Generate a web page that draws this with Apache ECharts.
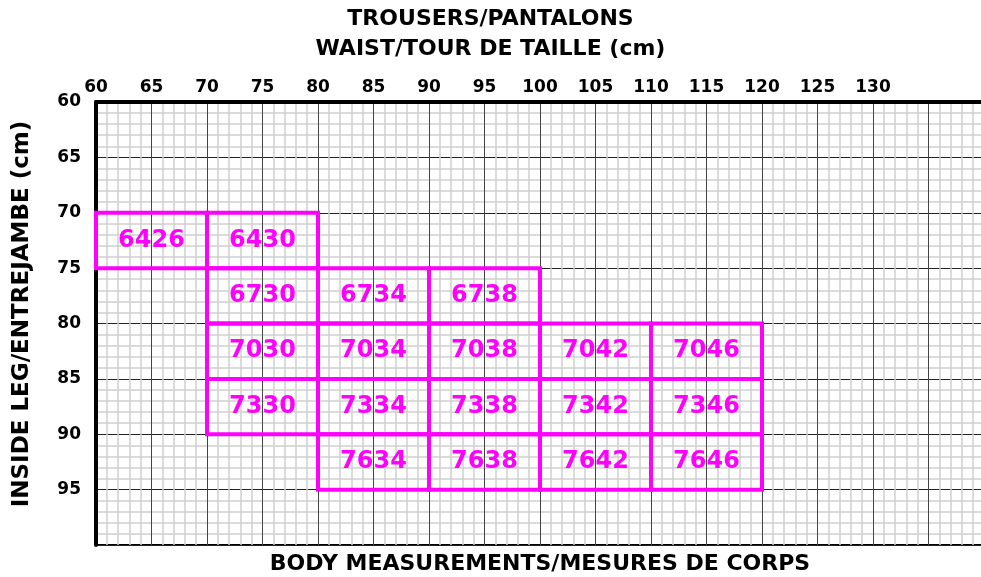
<!DOCTYPE html>
<html>
<head>
<meta charset="utf-8">
<script src="https://cdn.jsdelivr.net/npm/echarts@6/dist/echarts.min.js"></script>
<style>html,body{margin:0;padding:0;background:#fff}#c{width:981px;height:577px}</style>
</head>
<body>
<div id="c"></div>
<script>
// Size boxes: waist range start (cm), inside-leg range start (cm), product code
var waistStart = [60, 70, 70, 80, 90, 70, 80, 90, 100, 110, 70, 80, 90, 100, 110, 80, 90, 100, 110];
var legStart   = [70, 70, 75, 75, 75, 80, 80, 80, 80, 80, 85, 85, 85, 85, 85, 90, 90, 90, 90];
var codes = ['6426','6430','6730','6734','6738','7030','7034','7038','7042','7046',
             '7330','7334','7338','7342','7346','7634','7638','7642','7646'];
var waistStep = 10, legStep = 5;
var xTickLabels = [60,65,70,75,80,85,90,95,100,105,110,115,120,125,130];
var yTickLabels = [60,65,70,75,80,85,90,95];

var FONT = '"DejaVu Sans", "Liberation Sans", sans-serif';
var MAG = '#ff00ff';
var chart = echarts.init(document.getElementById('c'), null, {renderer: 'canvas'});
var data = waistStart.map(function (w, i) { return [w, legStart[i]]; });

chart.setOption({
  backgroundColor: '#fff',
  animation: false,
  title: [
    {text: 'TROUSERS/PANTALONS', left: 'center', top: 3,
     textStyle: {fontFamily: FONT, fontWeight: 'bold', fontSize: 22, color: '#000'}},
    {text: 'WAIST/TOUR DE TAILLE (cm)', left: 'center', top: 33,
     textStyle: {fontFamily: FONT, fontWeight: 'bold', fontSize: 22, color: '#000'}}
  ],
  graphic: [
    {type: 'text', x: 540, y: 564,
     style: {text: 'BODY MEASUREMENTS/MESURES DE CORPS', font: 'bold 22px ' + FONT, fill: '#000',
             align: 'center', verticalAlign: 'middle'}},
    {type: 'text', x: 22, y: 314, rotation: Math.PI / 2,
     style: {text: 'INSIDE LEG/ENTREJAMBE (cm)', font: 'bold 23px ' + FONT, fill: '#000',
             align: 'center', verticalAlign: 'middle'}}
  ],
  grid: {left: 96, top: 102, width: 888, height: 443, show: true, outerBoundsMode: 'none',
         borderColor: '#000', borderWidth: 2, backgroundColor: 'transparent'},
  xAxis: {
    type: 'value', position: 'top', min: 60, max: 140, interval: 5,
    axisLine: {show: true, lineStyle: {color: '#000', width: 4}},
    axisTick: {show: false},
    axisLabel: {margin: 6, color: '#000', fontFamily: FONT, fontWeight: 'bold', fontSize: 17,
      formatter: function (v) { return xTickLabels.indexOf(v) >= 0 ? String(v) : ''; }},
    splitLine: {show: true, lineStyle: {color: '#444', width: 1}},
    minorTick: {show: false, splitNumber: 5},
    minorSplitLine: {show: true, lineStyle: {color: '#cfcfcf', width: 1.5}}
  },
  yAxis: {
    type: 'value', inverse: true, min: 60, max: 100, interval: 5,
    axisLine: {show: true, lineStyle: {color: '#000', width: 4}},
    axisTick: {show: false},
    axisLabel: {margin: 15, color: '#000', fontFamily: FONT, fontWeight: 'bold', fontSize: 17,
      formatter: function (v) { return yTickLabels.indexOf(v) >= 0 ? String(v) : ''; }},
    splitLine: {show: true, lineStyle: {color: '#222', width: 1}},
    minorTick: {show: false, splitNumber: 5},
    minorSplitLine: {show: true, lineStyle: {color: '#cfcfcf', width: 1.5}}
  },
  series: [{
    type: 'custom',
    data: data,
    renderItem: function (params, api) {
      var x0 = api.value(0), y0 = api.value(1);
      var p0 = api.coord([x0, y0]);
      var p1 = api.coord([x0 + waistStep, y0 + legStep]);
      return {type: 'group', children: [
        {type: 'rect', shape: {x: p0[0], y: p0[1], width: p1[0] - p0[0], height: p1[1] - p0[1]},
         style: {fill: 'none', stroke: MAG, lineWidth: 4}},
        {type: 'text', style: {text: codes[params.dataIndex], x: (p0[0] + p1[0]) / 2, y: (p0[1] + p1[1]) / 2,
          align: 'center', verticalAlign: 'middle', fill: MAG, font: 'bold 24px ' + FONT}}
      ]};
    }
  }]
});
</script>
</body>
</html>
